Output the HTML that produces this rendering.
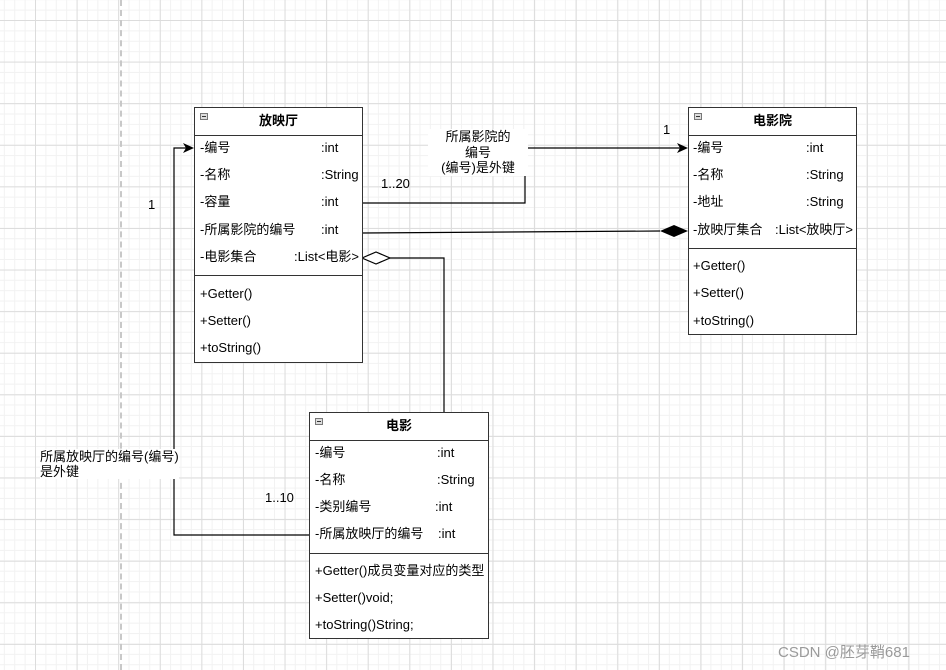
<!DOCTYPE html>
<html><head><meta charset="utf-8"><style>
*{margin:0;padding:0;box-sizing:border-box}
body{width:946px;height:670px;overflow:hidden;position:relative;background:#fff;
font-family:"Liberation Sans","Noto Sans CJK SC",sans-serif;font-size:13px;color:#000;
background-image:
linear-gradient(to right,#dcdcdc 1px,transparent 1px),
linear-gradient(to bottom,#dcdcdc 1px,transparent 1px),
linear-gradient(to right,#f2f2f2 1px,transparent 1px),
linear-gradient(to bottom,#f2f2f2 1px,transparent 1px);
background-size:41.6px 41.6px,41.6px 41.6px,10.4px 10.4px,10.4px 10.4px;
background-position:35px 20px,35px 20px,35px 20px,35px 20px;}
.t{position:absolute;white-space:nowrap;line-height:14px}
.box{position:absolute;border:1px solid #333;background:#fff}
.hd{position:absolute;left:0;right:0;top:0;border-bottom:1px solid #333;text-align:center;font-weight:bold;font-size:13px}
.ic{position:absolute;left:5px;top:5px;width:8px;height:7px;border:1px solid #777;background:#ddd}
.ic:after{content:"";position:absolute;left:1px;right:1px;top:2px;height:1px;background:#333}
.dv{position:absolute;left:0;right:0;border-top:1px solid #333}
</style></head><body>
<div style="position:absolute;left:120px;top:0;height:670px;border-left:2px dashed #c8c8c8"></div>

<svg width="946" height="670" style="position:absolute;left:0;top:0">
<g fill="none" stroke="#000" stroke-width="1.2">
<polyline points="362,203 525,203 525,148 680,148"/>
<line x1="362" y1="233" x2="660" y2="231"/>
<polyline points="390,258 444,258 444,412"/>
<polyline points="309,535 174,535 174,148 186,148"/>
</g>
<polygon points="688,148 677,143 680,148 677,153" fill="#000"/>
<polygon points="194,148 183,143 186,148 183,153" fill="#000"/>
<polygon points="688,231 674,225 660,231 674,237" fill="#000"/>
<polygon points="362,258 376,252 390,258 376,264" fill="#fff" stroke="#000" stroke-width="1.2"/>
</svg>

<!-- 放映厅 -->
<div class="box" style="left:194px;top:107px;width:169px;height:256px">
<div class="hd" style="height:28px;line-height:26px">放映厅</div><div class="ic"></div>
<div class="dv" style="top:167px"></div>
</div>
<div class="t" style="left:200px;top:141px">-编号</div><div class="t" style="left:321px;top:141px">:int</div>
<div class="t" style="left:200px;top:168px">-名称</div><div class="t" style="left:321px;top:168px">:String</div>
<div class="t" style="left:200px;top:195px">-容量</div><div class="t" style="left:321px;top:195px">:int</div>
<div class="t" style="left:200px;top:223px">-所属影院的编号</div><div class="t" style="left:321px;top:223px">:int</div>
<div class="t" style="left:200px;top:250px">-电影集合</div><div class="t" style="left:294px;top:250px">:List&lt;电影&gt;</div>
<div class="t" style="left:200px;top:287px">+Getter()</div>
<div class="t" style="left:200px;top:314px">+Setter()</div>
<div class="t" style="left:200px;top:341px">+toString()</div>

<!-- 电影院 -->
<div class="box" style="left:688px;top:107px;width:169px;height:228px">
<div class="hd" style="height:28px;line-height:26px">电影院</div><div class="ic"></div>
<div class="dv" style="top:140px"></div>
</div>
<div class="t" style="left:693px;top:141px">-编号</div><div class="t" style="left:806px;top:141px">:int</div>
<div class="t" style="left:693px;top:168px">-名称</div><div class="t" style="left:806px;top:168px">:String</div>
<div class="t" style="left:693px;top:195px">-地址</div><div class="t" style="left:806px;top:195px">:String</div>
<div class="t" style="left:693px;top:223px">-放映厅集合</div><div class="t" style="left:775px;top:223px">:List&lt;放映厅&gt;</div>
<div class="t" style="left:693px;top:259px">+Getter()</div>
<div class="t" style="left:693px;top:286px">+Setter()</div>
<div class="t" style="left:693px;top:314px">+toString()</div>

<!-- 电影 -->
<div class="box" style="left:309px;top:412px;width:180px;height:227px">
<div class="hd" style="height:28px;line-height:26px">电影</div><div class="ic"></div>
<div class="dv" style="top:140px"></div>
</div>
<div class="t" style="left:315px;top:446px">-编号</div><div class="t" style="left:437px;top:446px">:int</div>
<div class="t" style="left:315px;top:473px">-名称</div><div class="t" style="left:437px;top:473px">:String</div>
<div class="t" style="left:315px;top:500px">-类别编号</div><div class="t" style="left:435px;top:500px">:int</div>
<div class="t" style="left:315px;top:527px">-所属放映厅的编号</div><div class="t" style="left:438px;top:527px">:int</div>
<div class="t" style="left:315px;top:564px">+Getter()成员变量对应的类型</div>
<div class="t" style="left:315px;top:591px">+Setter()void;</div>
<div class="t" style="left:315px;top:618px">+toString()String;</div>

<!-- labels -->
<div class="t" style="left:148px;top:198px">1</div>
<div class="t" style="left:381px;top:177px">1..20</div>
<div class="t" style="left:428px;top:129px;width:100px;text-align:center;line-height:15.5px;white-space:normal;background:#fff">所属影院的<br>编号<br>(编号)是外键</div>
<div class="t" style="left:663px;top:123px">1</div>
<div class="t" style="left:40px;top:449px;line-height:15px;background:#fff">所属放映厅的编号(编号)<br>是外键</div>
<div class="t" style="left:265px;top:491px">1..10</div>
<div class="t" style="left:778px;top:644px;font-size:15px;color:#9a9a9a;line-height:17px">CSDN @胚芽鞘681</div>
</body></html>
